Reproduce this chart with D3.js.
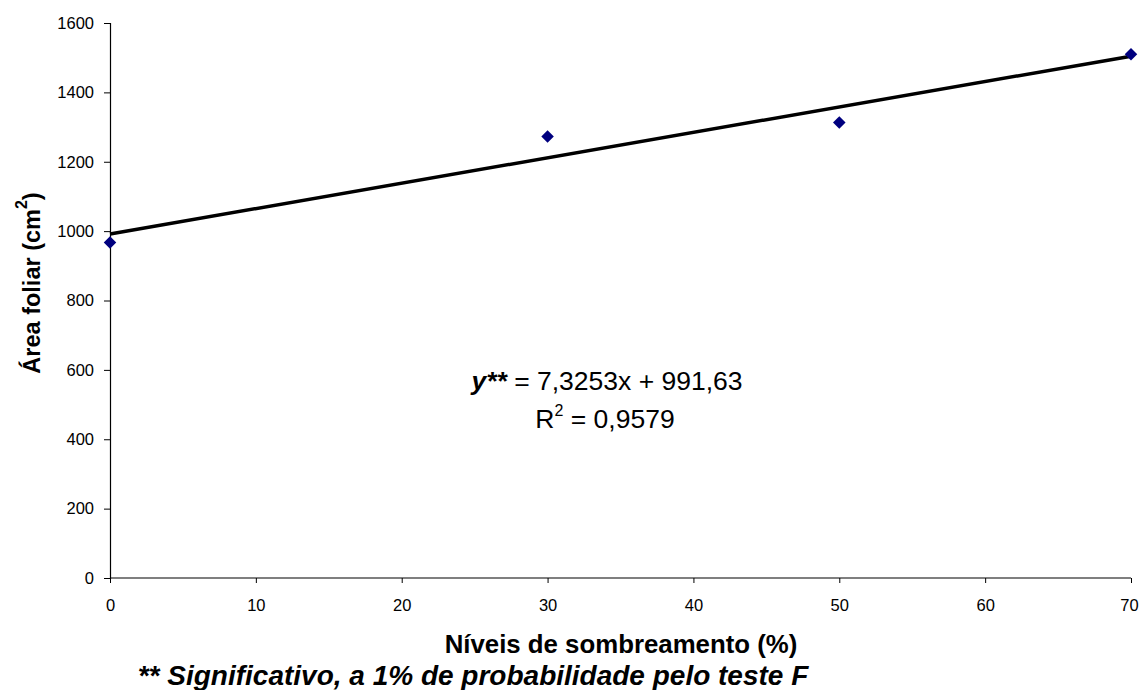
<!DOCTYPE html>
<html><head><meta charset="utf-8">
<script src="https://cdn.jsdelivr.net/npm/d3@7"></script>
<style>body{margin:0;background:#fff}svg{display:block}text{font-family:"Liberation Sans",Arial,sans-serif;fill:#000}</style>
</head><body>
<script>
const shading = [0, 30, 50, 70];
const leafArea = [967, 1273, 1313, 1510];
const fitSlope = 7.3253, fitIntercept = 991.63;
const xTicks = [0,10,20,30,40,50,60,70];
const yTicks = [0,200,400,600,800,1000,1200,1400,1600];

const W=1140,H=690;
const svg=d3.select("body").append("svg").attr("width",W).attr("height",H);
const x=d3.scaleLinear().domain([0,70]).range([110,1131]);
const y=d3.scaleLinear().domain([0,1600]).range([578,23]);

const yAxis=svg.append("g").attr("transform","translate(110,0)")
  .call(d3.axisLeft(y).tickValues(yTicks).tickSize(6).tickPadding(10).tickFormat(d3.format("d")));
const xAxis=svg.append("g").attr("transform","translate(0,578)")
  .call(d3.axisBottom(x).tickValues(xTicks).tickSize(5).tickPadding(16).tickFormat(d3.format("d")));
[yAxis,xAxis].forEach(g=>{
  g.selectAll("path").attr("stroke","#000").attr("stroke-width",1.2);
  g.selectAll("line").attr("stroke","#000");
  g.selectAll("text").attr("font-size",16.5).attr("font-family","Liberation Sans, Arial, sans-serif").attr("fill","#000");
});
xAxis.select(".domain").attr("d","M110,0H1131");
xAxis.selectAll(".tick text").filter(d=>d===70).attr("dx",-2);

svg.append("line")
  .attr("x1",x(0)).attr("y1",y(fitIntercept))
  .attr("x2",x(70)).attr("y2",y(fitIntercept+fitSlope*70))
  .attr("stroke","#000").attr("stroke-width",3.5);

const diamond=d3.symbol().type(d3.symbolDiamond2).size(100);
svg.selectAll(".pt").data(shading.map((s,i)=>[s,leafArea[i]])).enter()
  .append("path").attr("d",diamond)
  .attr("transform",d=>`translate(${x(d[0])},${y(d[1])})`)
  .attr("fill","#00007f");

// equation
const eq=svg.append("text").attr("x",607).attr("y",390).attr("text-anchor","middle").attr("font-size",26.5);
eq.append("tspan").attr("font-weight","bold").attr("font-style","italic").text("y**");
eq.append("tspan").text(" = 7,3253x + 991,63");
const r2=svg.append("text").attr("x",605).attr("y",428).attr("text-anchor","middle").attr("font-size",26.5);
r2.append("tspan").text("R");
r2.append("tspan").attr("font-size",16).attr("dy",-12).text("2");
r2.append("tspan").attr("dy",12).text(" = 0,9579");

// axis titles
const yt=svg.append("text").attr("transform","translate(40,283) rotate(-90)").attr("text-anchor","middle")
  .attr("font-size",23.5).attr("font-weight","bold");
yt.append("tspan").text("Área foliar (cm");
yt.append("tspan").attr("font-size",16).attr("dy",-13).text("2");
yt.append("tspan").attr("dy",13).text(")");

svg.append("text").attr("x",621).attr("y",653).attr("text-anchor","middle").attr("font-size",25.8).attr("font-weight","bold")
  .text("Níveis de sombreamento (%)");
svg.append("text").attr("x",473).attr("y",685).attr("text-anchor","middle").attr("font-size",28).attr("font-weight","bold").attr("font-style","italic")
  .text("** Significativo, a 1% de probabilidade pelo teste F");
</script>
</body></html>
